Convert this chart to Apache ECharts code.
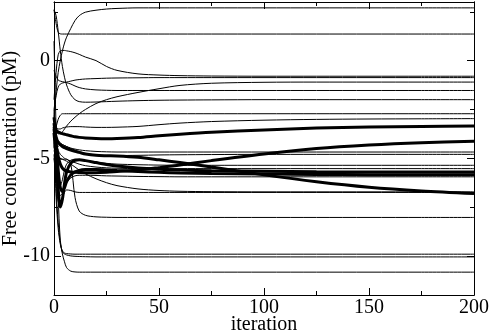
<!DOCTYPE html>
<html>
<head>
<meta charset="utf-8">
<script src="https://cdn.jsdelivr.net/npm/echarts@6/dist/echarts.min.js"></script>
<style>
  html, body { margin: 0; padding: 0; background: #fff; }
  #chart { width: 491px; height: 333px; }
</style>
</head>
<body>
<div id="chart"></div>
<script>
// iteration grid shared by all curves
const iters = [0, 1, 2, 3, 4, 5, 6, 8, 10, 12, 15, 20, 25, 30, 40, 50, 60, 75, 100, 125, 150, 175, 200];

// thin curves (log free concentration)
const l01 = [-3.0, -1.6, -0.6, 0.0, 0.5, 0.9, 1.2, 1.65, 2.05, 2.3, 2.48, 2.58, 2.64, 2.67, 2.7, 2.7, 2.7, 2.7, 2.7, 2.7, 2.7, 2.7, 2.7];
const l02 = [2.6, 1.9, 1.45, 1.37, 1.36, 1.36, 1.36, 1.36, 1.36, 1.36, 1.36, 1.36, 1.36, 1.36, 1.36, 1.36, 1.36, 1.36, 1.36, 1.36, 1.36, 1.36, 1.36];
const l03 = [-2.0, -0.6, 0.3, 0.5, 0.52, 0.52, 0.5, 0.46, 0.4, 0.32, 0.18, 0.0, -0.3, -0.5, -0.68, -0.74, -0.77, -0.79, -0.8, -0.8, -0.8, -0.8, -0.8];
const l04 = [-2.5, -1.8, -1.35, -1.2, -1.15, -1.12, -1.1, -1.05, -1.0, -0.97, -0.94, -0.92, -0.9, -0.89, -0.88, -0.87, -0.87, -0.87, -0.87, -0.87, -0.87, -0.87, -0.87];
const l05 = [-3.3, -3.6, -3.75, -3.75, -3.65, -3.5, -3.35, -3.1, -2.9, -2.72, -2.5, -2.2, -2.0, -1.85, -1.63, -1.44, -1.27, -1.16, -1.11, -1.1, -1.1, -1.1, -1.1];
const l06 = [-0.5, -0.8, -1.0, -1.05, -1.08, -1.1, -1.13, -1.2, -1.3, -1.38, -1.45, -1.5, -1.52, -1.53, -1.53, -1.53, -1.53, -1.53, -1.53, -1.53, -1.53, -1.53, -1.53];
const l07 = [2.6, 2.3, 1.5, 0.5, -0.3, -0.85, -1.25, -1.75, -2.0, -2.1, -2.13, -2.12, -2.1, -2.08, -2.05, -2.03, -2.02, -2.01, -2.0, -2.0, -2.0, -2.0, -2.0];
const l08 = [-3.8, -3.4, -3.0, -2.8, -2.72, -2.72, -2.72, -2.72, -2.72, -2.72, -2.72, -2.72, -2.72, -2.72, -2.72, -2.72, -2.72, -2.72, -2.72, -2.72, -2.72, -2.72, -2.72];
const l09 = [-3.2, -3.4, -3.5, -3.5, -3.45, -3.42, -3.4, -3.38, -3.38, -3.38, -3.4, -3.42, -3.42, -3.41, -3.37, -3.28, -3.2, -3.12, -3.05, -3.01, -2.99, -2.98, -2.97];
const l10 = [-3.6, -3.9, -4.1, -4.2, -4.3, -4.35, -4.4, -4.48, -4.53, -4.57, -4.61, -4.65, -4.67, -4.68, -4.68, -4.68, -4.68, -4.68, -4.68, -4.68, -4.68, -4.68, -4.68];
const l11 = [-4.2, -4.5, -4.4, -4.3, -4.3, -4.35, -4.4, -4.5, -4.58, -4.66, -4.75, -4.83, -4.86, -4.86, -4.85, -4.83, -4.82, -4.81, -4.8, -4.8, -4.8, -4.8, -4.8];
const l12 = [-4.3, -5.2, -6.0, -6.4, -6.1, -5.6, -5.3, -5.1, -5.05, -5.07, -5.12, -5.2, -5.26, -5.3, -5.33, -5.35, -5.36, -5.36, -5.36, -5.36, -5.36, -5.36, -5.36];
const l13 = [-3.9, -4.3, -4.6, -4.8, -4.9, -5.0, -5.05, -5.15, -5.22, -5.3, -5.38, -5.45, -5.49, -5.51, -5.53, -5.53, -5.53, -5.53, -5.53, -5.53, -5.53, -5.53, -5.53];
const l14 = [-5.0, -6.0, -6.6, -6.9, -6.8, -6.5, -6.25, -6.0, -5.9, -5.87, -5.87, -5.88, -5.9, -5.91, -5.93, -5.94, -5.95, -5.95, -5.95, -5.95, -5.95, -5.95, -5.95];
const l15 = [-4.6, -4.9, -5.0, -5.0, -5.05, -5.1, -5.15, -5.3, -5.45, -5.6, -5.8, -6.05, -6.25, -6.4, -6.57, -6.65, -6.69, -6.71, -6.72, -6.72, -6.72, -6.72, -6.72];
const l16 = [-4.8, -6.2, -7.2, -7.3, -7.0, -6.75, -6.62, -6.65, -6.72, -6.75, -6.75, -6.75, -6.75, -6.75, -6.75, -6.75, -6.75, -6.75, -6.75, -6.75, -6.75, -6.75, -6.75];
const l17 = [-4.4, -4.8, -5.0, -5.05, -5.05, -5.05, -5.05, -5.3, -7.0, -7.7, -7.92, -8.0, -8.02, -8.03, -8.03, -8.03, -8.03, -8.03, -8.03, -8.03, -8.03, -8.03, -8.03];
const l18 = [-3.5, -7.0, -8.6, -9.4, -9.75, -9.85, -9.88, -9.9, -9.91, -9.91, -9.91, -9.91, -9.91, -9.91, -9.91, -9.91, -9.91, -9.91, -9.91, -9.91, -9.91, -9.91, -9.91];
const l19 = [-2.5, -6.5, -8.3, -9.3, -9.8, -9.9, -9.95, -10.0, -10.02, -10.03, -10.04, -10.05, -10.05, -10.05, -10.05, -10.05, -10.05, -10.05, -10.05, -10.05, -10.05, -10.05, -10.05];
const l20 = [1.0, -3.5, -7.0, -9.2, -9.9, -10.3, -10.6, -10.78, -10.82, -10.83, -10.83, -10.83, -10.83, -10.83, -10.83, -10.83, -10.83, -10.83, -10.83, -10.83, -10.83, -10.83, -10.83];

// thick curves
const t1 = [-2.9, -3.55, -3.65, -3.7, -3.74, -3.77, -3.8, -3.85, -3.9, -3.93, -3.96, -3.99, -4.0, -3.99, -3.94, -3.85, -3.77, -3.67, -3.55, -3.45, -3.4, -3.37, -3.35];
const t2 = [-3.5, -4.3, -4.9, -5.3, -5.5, -5.6, -5.65, -5.7, -5.72, -5.73, -5.74, -5.74, -5.72, -5.68, -5.6, -5.48, -5.35, -5.12, -4.78, -4.5, -4.32, -4.2, -4.13];
const t3 = [-3.4, -3.9, -4.2, -4.3, -4.4, -4.45, -4.5, -4.58, -4.65, -4.7, -4.78, -4.85, -4.87, -4.88, -4.95, -5.08, -5.22, -5.45, -5.85, -6.2, -6.48, -6.67, -6.8];
const t4 = [-3.7, -5.0, -6.6, -7.5, -7.1, -6.3, -5.7, -5.25, -5.1, -5.08, -5.12, -5.22, -5.32, -5.4, -5.5, -5.56, -5.6, -5.64, -5.67, -5.69, -5.7, -5.7, -5.7];
const t5 = [-3.2, -4.2, -5.6, -6.5, -6.7, -6.5, -6.2, -5.85, -5.7, -5.62, -5.58, -5.57, -5.6, -5.63, -5.68, -5.72, -5.75, -5.78, -5.81, -5.83, -5.84, -5.85, -5.85];

const thinLines = [l01, l02, l03, l04, l05, l06, l07, l08, l09, l10, l11, l12, l13, l14, l15, l16, l17, l18, l19, l20];
const thickLines = [t1, t2, t3, t4, t5];

const yMajor = [-10, -5, 0];
const yMinor = [-7.5, -2.5, 2.5];

const font = 'Liberation Serif';

function makeSeries(vals, width) {
  return {
    type: 'line',
    showSymbol: false,
    smooth: 0.3,
    silent: true,
    xAxisIndex: 0,
    yAxisIndex: 0,
    lineStyle: { color: '#000', width: width },
    data: vals.map((v, i) => [iters[i], v])
  };
}

function yAxisDef(pos, ticks, len, labels, name) {
  return {
    type: 'value',
    position: pos,
    min: -12,
    max: 3,
    name: name || '',
    nameLocation: 'middle',
    nameGap: 33,
    nameMoveOverlap: false,
    nameTextStyle: { fontFamily: font, fontSize: 20, color: '#000' },
    axisLine: { show: true, onZero: false, lineStyle: { color: '#000', width: 1 } },
    axisTick: { show: true, inside: true, length: len, customValues: ticks, lineStyle: { color: '#000' } },
    axisLabel: labels ? { show: true, customValues: ticks, margin: 4, fontFamily: font, fontSize: 20, color: '#000' } : { show: false },
    splitLine: { show: false }
  };
}

function xAxisDef(pos, labels) {
  return {
    type: 'value',
    position: pos,
    min: 0,
    max: 200,
    interval: 50,
    name: labels ? 'iteration' : '',
    nameLocation: 'middle',
    nameGap: 20,
    nameMoveOverlap: false,
    nameTextStyle: { fontFamily: font, fontSize: 20, color: '#000' },
    axisLine: { show: true, onZero: false, lineStyle: { color: '#000', width: 1 } },
    axisTick: { show: true, inside: true, length: 7, lineStyle: { color: '#000' } },
    minorTick: { show: true, splitNumber: 2, length: 4, lineStyle: { color: '#000' } },
    axisLabel: labels ? { show: true, margin: 3, fontFamily: font, fontSize: 20, color: '#000' } : { show: false },
    splitLine: { show: false }
  };
}

const chart = echarts.init(document.getElementById('chart'));
const option = {
  animation: false,
  backgroundColor: '#fff',
  grid: { left: 54, right: 17, top: 2, bottom: 38, containLabel: false, outerBoundsMode: 'none' },
  xAxis: [xAxisDef('bottom', true), xAxisDef('top', false)],
  yAxis: [
    yAxisDef('left', yMajor, 7, true, 'Free concentration (pM)'),
    yAxisDef('left', yMinor, 4, false),
    yAxisDef('right', yMajor, 7, false),
    yAxisDef('right', yMinor, 4, false)
  ],
  series: thinLines.map(v => makeSeries(v, 1)).concat(thickLines.map(v => makeSeries(v, 3)))
};
chart.setOption(option);
</script>
</body>
</html>
